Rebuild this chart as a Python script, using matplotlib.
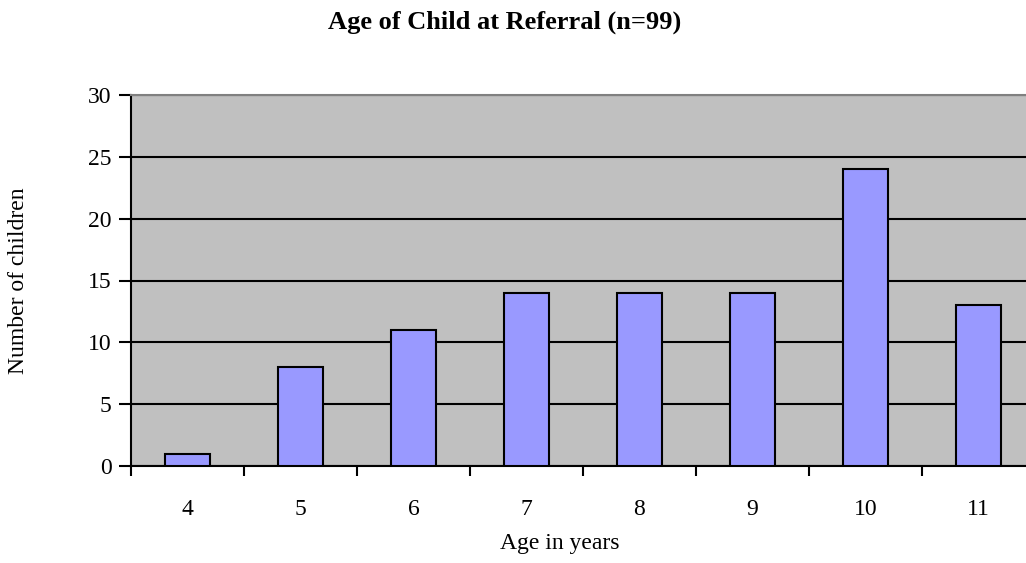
import numpy as np
import matplotlib.pyplot as plt

ages = ['4', '5', '6', '7', '8', '9', '10', '11']
counts = [1, 8, 11, 14, 14, 14, 24, 13]

plt.rcParams['font.family'] = ['Liberation Serif', 'DejaVu Serif']

W, H = 1026, 563
fig = plt.figure(figsize=(W / 100, H / 100), dpi=100)
ax = fig.add_axes([131 / W, 1 - 466 / H, 904 / W, 371 / H])
ax.set_facecolor('#C0C0C0')

x = np.arange(len(ages))
ax.bar(x, counts, width=0.4, color='#9999FF', edgecolor='black', linewidth=1.5, zorder=3)

ax.set_xlim(-0.5, len(ages) - 0.5)
ax.set_ylim(0, 30)
ax.set_yticks(range(0, 31, 5))
ax.yaxis.grid(True, color='black', linewidth=1.5, zorder=1)
ax.set_axisbelow(True)

# category boundary ticks, labels in the middle
ax.set_xticks(np.arange(-0.5, len(ages), 1.0))
ax.set_xticklabels([])
ax.set_xticks(x, minor=True)
ax.set_xticklabels(ages, minor=True)
ax.tick_params(axis='x', which='major', length=7, width=1.5, direction='out')
ax.tick_params(axis='x', which='minor', length=0, pad=24, labelsize=17)
ax.tick_params(axis='y', length=9, width=1.5, direction='out', labelsize=17, pad=5)

for s in ['top', 'right']:
    ax.spines[s].set_color('#808080')
    ax.spines[s].set_linewidth(1.5)
for s in ['left', 'bottom']:
    ax.spines[s].set_color('black')
    ax.spines[s].set_linewidth(1.5)

fig.text(560 / W, 1 - 543 / H, 'Age in years', ha='center', va='center', fontsize=17)
fig.text(19 / W, 1 - 281 / H, 'Number of children', ha='center', va='center',
         rotation=90, fontsize=17)
fig.text(505 / W, 1 - 22 / H, 'Age of Child at Referral (n=99)', ha='center', va='center',
         fontsize=19, fontweight='bold')

fig.savefig('out.png', dpi=100)
